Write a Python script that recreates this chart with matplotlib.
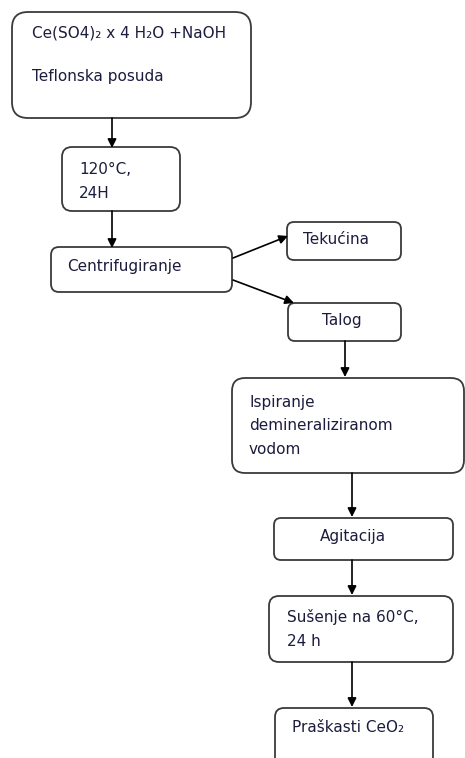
import matplotlib.pyplot as plt
from matplotlib.patches import FancyBboxPatch

# box texts (one entry per box, lines separated by \n)
labels = [
    "Ce(SO4)\u2082 x 4 H\u2082O +NaOH\n\nTeflonska posuda",
    "120\u00b0C,\n24H",
    "Centrifugiranje",
    "Teku\u0107ina",
    "Talog",
    "Ispiranje\ndemineraliziranom\nvodom",
    "Agitacija",
    "Su\u0161enje na 60\u00b0C,\n24 h",
    "Pra\u0161kasti CeO\u2082",
]
# which boxes are joined by arrows (from, to)
links = [(0, 1), (1, 2), (2, 3), (2, 4), (4, 5), (5, 6), (6, 7), (7, 8)]

# layout in pixels: left, top, right, bottom, corner radius
boxes = [
    (12, 12, 251, 118, 16),
    (62, 147, 180, 211, 10),
    (51, 247, 232, 292, 8),
    (287, 222, 401, 260, 7),
    (288, 303, 401, 341, 7),
    (232, 378, 464, 473, 13),
    (274, 518, 453, 560, 7),
    (269, 596, 453, 662, 10),
    (275, 708, 433, 790, 9),
]
# text anchor: x, y of first line, line step, horizontal alignment
text_pos = [
    (32, 33, 22, 'left'),
    (79, 169, 24, 'left'),
    (67, 267, 24, 'left'),
    (303, 240, 24, 'left'),
    (342, 321, 24, 'center'),
    (249, 402, 23.5, 'left'),
    (353, 536, 24, 'center'),
    (287, 617, 24, 'left'),
    (292, 728, 24, 'left'),
]
# arrow endpoints in pixels
arrows = [
    ((112, 118), (112, 148)),
    ((112, 211), (112, 248)),
    ((233, 258), (288, 236)),
    ((233, 280), (294, 303)),
    ((345, 341), (345, 377)),
    ((352, 473), (352, 517)),
    ((352, 560), (352, 595)),
    ((352, 662), (352, 707)),
]

fig = plt.figure(figsize=(4.65, 7.58), dpi=100)
ax = fig.add_axes([0, 0, 1, 1])
ax.set_xlim(0, 465)
ax.set_ylim(758, 0)
ax.axis('off')

for (x0, y0, x1, y1, r), lab, (tx, ty, step, ha) in zip(boxes, labels, text_pos):
    ax.add_patch(FancyBboxPatch((x0, y0), x1 - x0, y1 - y0,
                                boxstyle=f"round,pad=0,rounding_size={r}",
                                fc='white', ec='#3a3a3a', lw=1.3))
    for i, line in enumerate(lab.split('\n')):
        if line:
            ax.text(tx, ty + i * step, line, ha=ha, va='center', fontsize=11,
                    family=['DejaVu Sans'], color='#1c1c3e')

for (p0, p1) in arrows:
    ax.annotate('', xy=p1, xytext=p0,
                arrowprops=dict(arrowstyle='-|>', color='black', lw=1.2,
                                mutation_scale=13, shrinkA=0, shrinkB=0))

fig.savefig('out.png', dpi=100)
